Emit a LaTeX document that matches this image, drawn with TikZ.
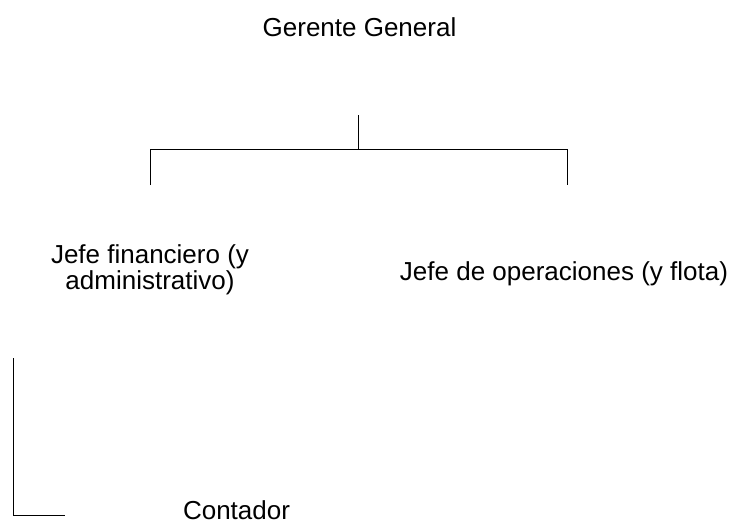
\documentclass[tikz,border=0pt]{standalone}
\usepackage{fontspec}
\setmainfont{Liberation Sans}
\usetikzlibrary{positioning}
\tikzset{
    cargo/.style={anchor=base, inner sep=0pt, align=center, font=\fontsize{26}{21}\selectfont},
    linea/.style={line width=1pt}
}

\begin{document}
\begin{tikzpicture}[x=1pt, y=-1pt]
    \useasboundingbox (0, 0) rectangle (736, 525);
    \node[cargo] (gerente) at (359.5, 36) {Gerente General};
    \node[cargo] (financiero) at (150, 289) {Jefe financiero (y\\administrativo)};
    \node[cargo] (operaciones) at (564, 280) {Jefe de operaciones (y flota)};
    \node[cargo] (contador) at (236.5, 519) {Contador};
    \coordinate (arriba) at (358, 115);
    \coordinate (centro) at (358, 149);
    \coordinate (izq) at (150, 149);
    \coordinate (der) at (567, 149);
    \coordinate (izqbajo) at (150, 185);
    \coordinate (derbajo) at (567, 185);
    \coordinate (llave) at (13, 358);
    \coordinate (esquina) at (13, 515);
    \coordinate (llavefin) at (65, 515);
    \draw[linea] (arriba) -- (centro);
    \draw[linea] (izqbajo) -- (izq) -- (der) -- (derbajo);
    \draw[linea] (llave) -- (esquina) -- (llavefin);
\end{tikzpicture}
\end{document}
